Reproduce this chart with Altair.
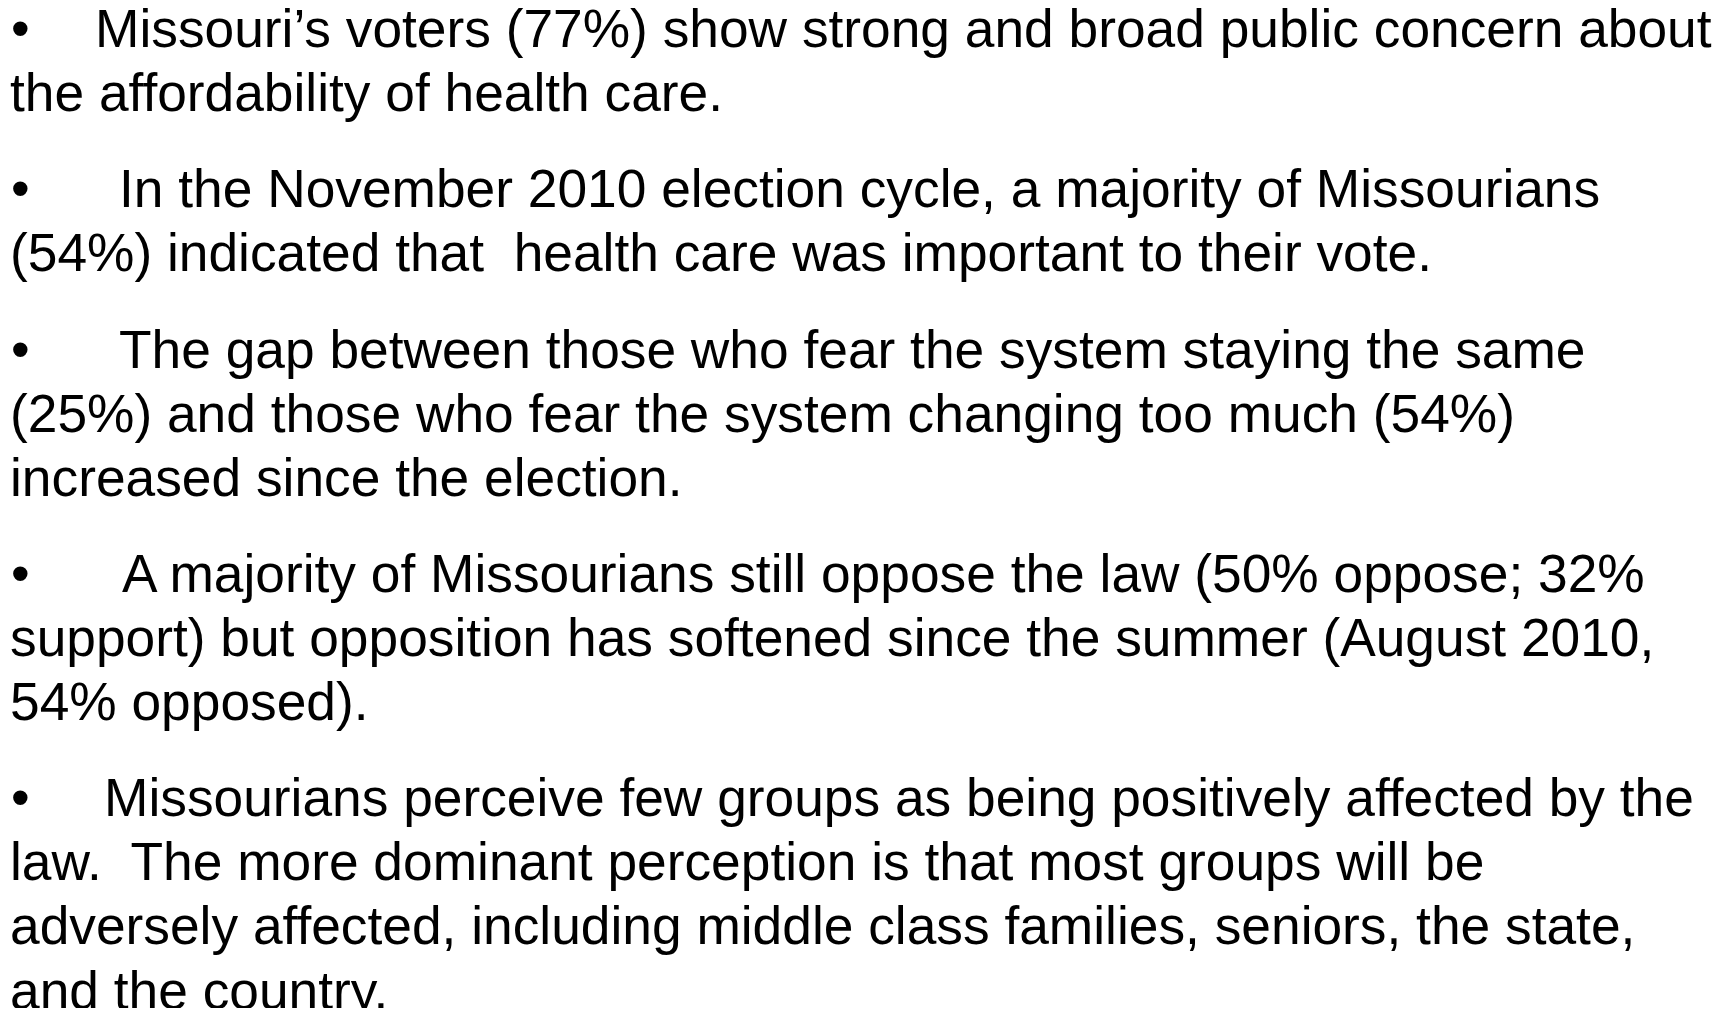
import altair as alt
import pandas as pd

# Slide text, one entry per printed line
paragraph_lines = [
    ["Missouri\u2019s voters (77%) show strong and broad public concern about",
     "the affordability of health care."],
    ["In the November 2010 election cycle, a majority of Missourians",
     "(54%) indicated that\u00a0 health care was important to their vote."],
    ["The gap between those who fear the system staying the same",
     "(25%) and those who fear the system changing too much (54%)",
     "increased since the election."],
    ["A majority of Missourians still oppose the law (50% oppose; 32%",
     "support) but opposition has softened since the summer (August 2010,",
     "54% opposed)."],
    ["Missourians perceive few groups as being positively affected by the",
     "law.\u00a0 The more dominant perception is that most groups will be",
     "adversely affected, including middle class families, seniors, the state,",
     "and the country."],
]
# left start of the first line of each paragraph (after the bullet tab)
first_line_indent = [87, 111, 111, 114, 96]
cont_indent = 2
bullet_x = 3

rows = []
bullets = []
line_idx = 0
for p, lines in enumerate(paragraph_lines):
    for j, txt in enumerate(lines):
        slot = line_idx + 0.5 * p
        rows.append({"text": txt, "x": first_line_indent[p] if j == 0 else cont_indent,
                     "slot": slot})
        if j == 0:
            bullets.append({"text": "\u2022", "x": bullet_x, "slot": slot})
        line_idx += 1

df = pd.DataFrame(rows)
bdf = pd.DataFrame(bullets)

W, H = 1720, 1000
xs = alt.Scale(domain=[0, W], range=[0, W])
ys = alt.Scale(domain=[0, 15], range=[39, 39 + 64.1 * 15])

base_text = dict(align="left", baseline="alphabetic", font="Liberation Sans",
                 fontSize=53.3, color="#000000")

body = alt.Chart(df).mark_text(**base_text).encode(
    x=alt.X("x:Q", scale=xs, axis=None),
    y=alt.Y("slot:Q", scale=ys, axis=None),
    text="text:N",
)
dots = alt.Chart(bdf).mark_text(**base_text).encode(
    x=alt.X("x:Q", scale=xs, axis=None),
    y=alt.Y("slot:Q", scale=ys, axis=None),
    text="text:N",
)

chart = (dots + body).properties(
    width=W, height=H, padding=0, background="white",
    autosize=alt.AutoSizeParams(type="none"),
).configure_view(stroke=None)

chart.save("out.html", embed_options={"renderer": "svg", "actions": False})
